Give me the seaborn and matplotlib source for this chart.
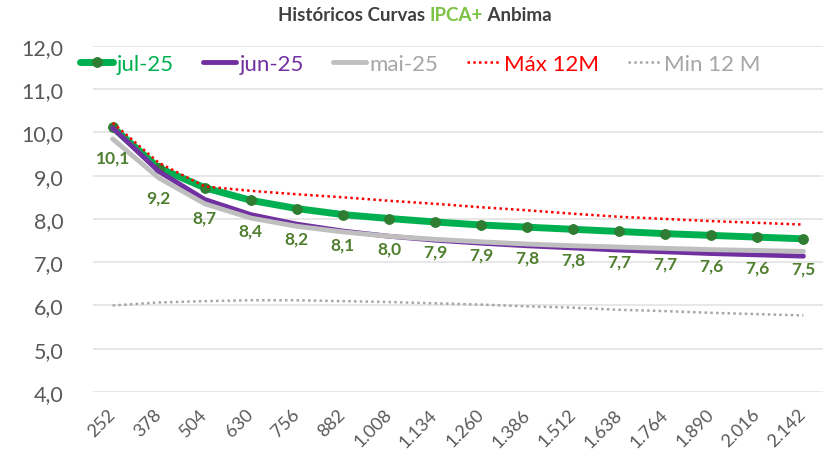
import numpy as np
import pandas as pd
import matplotlib
matplotlib.use("Agg")
import matplotlib.pyplot as plt
import matplotlib.transforms as mtransforms
import seaborn as sns

sns.set_theme(style="white")
plt.rcParams["font.family"] = ["Lato", "DejaVu Sans"]

# Vertices (business days) on the curve
prazos = [252, 378, 504, 630, 756, 882, 1008, 1134, 1260, 1386,
          1512, 1638, 1764, 1890, 2016, 2142]
prazo_labels = ["252", "378", "504", "630", "756", "882", "1.008", "1.134",
                "1.260", "1.386", "1.512", "1.638", "1.764", "1.890",
                "2.016", "2.142"]

# Yields (% p.a.)
jul_25 = [10.12, 9.18, 8.72, 8.43, 8.24, 8.10, 8.01, 7.93, 7.86, 7.81,
          7.76, 7.71, 7.66, 7.62, 7.58, 7.54]
jun_25 = [10.1, 9.1, 8.45, 8.1, 7.88, 7.72, 7.6, 7.51, 7.44, 7.38, 7.33,
          7.28, 7.24, 7.2, 7.17, 7.14]
mai_25 = [9.85, 8.95, 8.35, 8.02, 7.83, 7.7, 7.6, 7.53, 7.47, 7.42, 7.38,
          7.35, 7.32, 7.29, 7.27, 7.25]
max_12m = [10.22, 9.3, 8.75, 8.65, 8.57, 8.5, 8.42, 8.35, 8.27, 8.2, 8.12,
           8.05, 8.0, 7.95, 7.91, 7.87]
min_12m = [6.0, 6.07, 6.1, 6.12, 6.12, 6.1, 6.08, 6.05, 6.02, 5.98, 5.95,
           5.9, 5.87, 5.83, 5.8, 5.77]

pos = np.arange(len(prazos))
df = pd.DataFrame({"pos": pos, "jul-25": jul_25, "jun-25": jun_25,
                   "mai-25": mai_25, "Máx 12M": max_12m,
                   "Min 12 M": min_12m})

fig = plt.figure(figsize=(8.29, 4.64), dpi=100)
ax = fig.add_axes([0.112, 0.153, 0.881, 0.746])

GREEN = "#00b050"
PURPLE = "#7030a0"
GRAY = "#bfbfbf"
RED = "#ff0000"
MINC = "#a6a6a6"
TXT = "#595959"

sns.lineplot(data=df, x="pos", y="jul-25", ax=ax, color=GREEN, lw=5,
             marker="o", markersize=7, markerfacecolor="#2f7d32",
             markeredgecolor="#2f7d32", label="jul-25", zorder=3)
sns.lineplot(data=df, x="pos", y="jun-25", ax=ax, color=PURPLE, lw=3.5,
             label="jun-25", zorder=4)
sns.lineplot(data=df, x="pos", y="mai-25", ax=ax, color=GRAY, lw=3.5,
             label="mai-25", zorder=5)
sns.lineplot(data=df, x="pos", y="Máx 12M", ax=ax, color=RED, lw=1.8,
             linestyle=(0, (1, 1.3)), label="Máx 12M", zorder=6)
sns.lineplot(data=df, x="pos", y="Min 12 M", ax=ax, color=MINC, lw=1.8,
             linestyle=(0, (1, 1.3)), label="Min 12 M", zorder=6)

# value labels under the jul-25 points
for p, v in zip(pos, jul_25):
    ax.annotate(f"{v:.1f}".replace(".", ","), (p, v), xytext=(0, -30),
                textcoords="offset pixels", ha="center", va="center",
                fontsize=12.5, fontweight="bold", color="#4f7f2f", zorder=7)

ax.set_xlim(-0.43, len(prazos) - 1 + 0.43)
ax.set_ylim(4.0, 12.0)
yt = np.arange(4, 12.01, 1.0)
ax.set_yticks(yt)
ax.set_yticklabels([f"{t:.1f}".replace(".", ",") for t in yt],
                   fontsize=15.5, color=TXT)
ax.set_xticks(pos)
ax.set_xticklabels(prazo_labels, rotation=45, ha="right", va="center",
                   rotation_mode="anchor", fontsize=13, color=TXT)
shift = mtransforms.ScaledTranslation(6 / 100, 0, fig.dpi_scale_trans)
for lab in ax.get_xticklabels():
    lab.set_transform(lab.get_transform() + shift)
ax.tick_params(axis="x", length=0, pad=14)
ax.tick_params(axis="y", length=0, pad=21)
ax.set_xlabel("")
ax.set_ylabel("")
ax.grid(axis="y", color="#e3e3e3", lw=1.2)
ax.grid(axis="x", visible=False)
for s in ax.spines.values():
    s.set_visible(False)

leg = ax.legend(loc="center left", bbox_to_anchor=(-0.045, 0.948), ncol=5,
                frameon=False, fontsize=16, handlelength=1.5,
                handletextpad=0.15, columnspacing=1.3)
for txt, c in zip(leg.get_texts(), [GREEN, PURPLE, "#a6a6a6", RED, "#a6a6a6"]):
    txt.set_color(c)

# title with the highlighted index name
parts = [("Históricos Curvas ", "#404040"), ("IPCA+", "#7cc243"),
         (" Anbima", "#404040")]
fig.canvas.draw()
r = fig.canvas.get_renderer()
texts = []
for s, c in parts:
    t = fig.text(0, 0.967, s, fontsize=13.5, fontweight="bold", color=c,
                 ha="left", va="center")
    texts.append(t)
widths = [t.get_window_extent(r).width for t in texts]
total = sum(widths)
x0 = 415 - total / 2
for t, w in zip(texts, widths):
    t.set_x(x0 / 829)
    x0 += w

fig.savefig("out.png", dpi=100)
